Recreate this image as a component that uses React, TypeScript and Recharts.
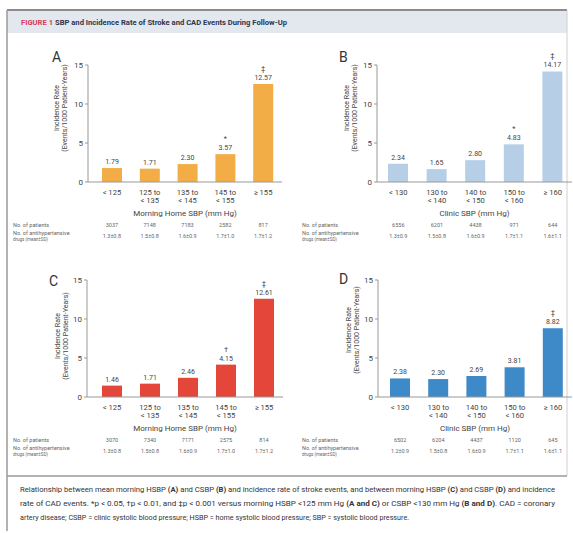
import React from 'react';
import { BarChart, Bar, XAxis, YAxis, LabelList } from 'recharts';

const homeCats = ['< 125', '125 to|< 135', '135 to|< 145', '145 to|< 155', '≥ 155'];
const clinicCats = ['< 130', '130 to|< 140', '140 to|< 150', '150 to|< 160', '≥ 160'];

const strokeHome = [1.79, 1.71, 2.3, 3.57, 12.57];
const strokeClinic = [2.34, 1.65, 2.8, 4.83, 14.17];
const cadHome = [1.46, 1.71, 2.46, 4.15, 12.61];
const cadClinic = [2.38, 2.3, 2.69, 3.81, 8.82];

const sigA = ['', '', '', '*', '‡'];
const sigB = ['', '', '', '*', '‡'];
const sigC = ['', '', '', '†', '‡'];
const sigD = ['', '', '', '', '‡'];

const patientsA = ['3037', '7148', '7183', '2582', '817'];
const patientsB = ['6556', '6201', '4438', '971', '644'];
const patientsC = ['3070', '7340', '7171', '2575', '814'];
const patientsD = ['6502', '6204', '4437', '1120', '645'];

const drugsA = ['1.3±0.8', '1.5±0.8', '1.6±0.9', '1.7±1.0', '1.7±1.2'];
const drugsB = ['1.3±0.9', '1.5±0.8', '1.6±0.9', '1.7±1.1', '1.6±1.1'];
const drugsC = ['1.3±0.8', '1.5±0.8', '1.6±0.9', '1.7±1.0', '1.7±1.2'];
const drugsD = ['1.2±0.9', '1.5±0.8', '1.6±0.9', '1.7±1.1', '1.6±1.1'];

const yTicks = [0, 5, 10, 15];

const FONT = "Roboto, 'Noto Sans', sans-serif";
const TXT = '#444';

const CatTick = (p: any) => {
  const { x, y, payload, index, patients, drugs } = p;
  const lines = String(payload.value).split('|');
  return (
    <g fontFamily={FONT}>
      <text x={x} y={y + 12.5} textAnchor="middle" fontSize={7.6} fill={TXT}>
        {lines.map((l, i) => (
          <tspan key={i} x={x} dy={i === 0 ? 0 : 8.5}>
            {l}
          </tspan>
        ))}
      </text>
      <text x={x} y={y + 44.5} textAnchor="middle" fontSize={5.5} fill="#666">
        {patients[index]}
      </text>
      <text x={x} y={y + 55.5} textAnchor="middle" fontSize={5.5} fill="#666">
        {drugs[index]}
      </text>
    </g>
  );
};

const TopLabel = (p: any) => {
  const vb = p.viewBox || {};
  const x = p.x ?? vb.x;
  const y = p.y ?? vb.y;
  const width = p.width ?? vb.width;
  const cx = x + width / 2;
  const mark = p.sig[p.index];
  return (
    <g fontFamily={FONT}>
      <text x={cx} y={y - 4} textAnchor="middle" fontSize={7} fill={TXT}>
        {Number(p.value).toFixed(2)}
      </text>
      {mark ? (
        <text x={cx} y={y - 13} textAnchor="middle" fontSize={7.5} fill={TXT}>
          {mark}
        </text>
      ) : null}
    </g>
  );
};

const XTitle = (p: any) => {
  const vb = p.viewBox || {};
  return (
    <text x={vb.x + vb.width / 2} y={vb.y + 34} textAnchor="middle" fontSize={8} fill={TXT} fontFamily={FONT}>
      {p.title}
    </text>
  );
};

type PanelProps = {
  left: number;
  top: number;
  width: number;
  yWidth: number;
  cats: string[];
  values: number[];
  sig: string[];
  patients: string[];
  drugs: string[];
  color: string;
  xTitle: string;
  padLeft: number;
  right: number;
};

const Panel = (props: PanelProps) => {
  const { left, top, width, yWidth, cats, values, sig, patients, drugs, color, xTitle, padLeft, right } = props;
  const data = cats.map((c, i) => ({ cat: c, v: values[i] }));
  return (
    <div style={{ position: 'absolute', left, top }}>
      <BarChart width={width} height={210} data={data} margin={{ top: 25, right, left: 0, bottom: 0 }}>
        <YAxis
          width={yWidth}
          domain={[0, 15]}
          ticks={yTicks}
          interval={0}
          tickSize={3}
          tickMargin={2}
          stroke="#999"
          tick={{ fontSize: 8, fill: TXT, fontFamily: FONT }}
        />
        <XAxis
          dataKey="cat"
          height={68}
          interval={0}
          padding={{ left: padLeft, right: 0 }}
          tickLine={false}
          tickSize={0}
          tickMargin={0}
          stroke="#999"
          tick={(t: any) => <CatTick {...t} patients={patients} drugs={drugs} />}
          label={{ content: (l: any) => <XTitle {...l} title={xTitle} /> }}
        />
        <Bar dataKey="v" fill={color} barSize={20} isAnimationActive={false}>
          <LabelList dataKey="v" content={(l: any) => <TopLabel {...l} sig={sig} />} />
        </Bar>
      </BarChart>
    </div>
  );
};

const RowTitles = ({ x, axisY }: { x: number; axisY: number }) => (
  <g fontFamily={FONT} fill="#666">
    <text x={x} y={axisY + 44.5} fontSize={5.5}>No. of patients</text>
    <text x={x} y={axisY + 52.5} fontSize={5.5}>No. of antihypertensive</text>
    <text x={x} y={axisY + 58.5} fontSize={4.5}>drugs (mean±SD)</text>
  </g>
);

const YTitle = ({ x, cy }: { x: number; cy: number }) => (
  <g fontFamily={FONT} fill={TXT} fontSize={7}>
    <text transform={`translate(${x},${cy}) rotate(-90)`} textAnchor="middle">Incidence Rate</text>
    <text transform={`translate(${x + 8},${cy}) rotate(-90)`} textAnchor="middle">(Events/1000 Patient-Years)</text>
  </g>
);

export default function App() {
  return (
    <div style={{ position: 'absolute', left: 0, top: 0, width: 573, height: 533, background: '#fff' }}>
      <svg width={573} height={533} style={{ position: 'absolute', left: 0, top: 0 }}>
        <rect x={7} y={11} width={560} height={22} fill="#e2e8ee" />
        <line x1={7} y1={10} x2={567} y2={10} stroke="#8c8c8c" strokeWidth={2} />
        <line x1={7} y1={10} x2={7} y2={531} stroke="#9a9a9a" strokeWidth={1.5} />
        <line x1={567} y1={10} x2={567} y2={476} stroke="#d0d0d0" strokeWidth={1} />
        <line x1={7} y1={476} x2={567} y2={476} stroke="#9a9a9a" strokeWidth={1.5} />
        <text x={21} y={25} fontSize={6.5} fontWeight="bold" fontFamily={FONT} textLength={266} lengthAdjust="spacingAndGlyphs">
          <tspan fill="#d6405a">FIGURE 1</tspan>
          <tspan fill="#2a3550"> SBP and Incidence Rate of Stroke and CAD Events During Follow-Up</tspan>
        </text>

        <g fontFamily={FONT} fontSize={14} fill="#333">
          <text x={52} y={62}>A</text>
          <text x={339} y={62}>B</text>
          <text x={49} y={286}>C</text>
          <text x={339} y={284}>D</text>
        </g>

        <YTitle x={59} cy={108} />
        <YTitle x={349} cy={108} />
        <YTitle x={60} cy={336} />
        <YTitle x={351} cy={330} />

        <RowTitles x={13} axisY={182} />
        <RowTitles x={302} axisY={182} />
        <RowTitles x={13} axisY={397} />
        <RowTitles x={302} axisY={397} />

        <g fontFamily={FONT} fontSize={7.2} fill="#333">
          <text x={20} y={492} textLength={535} lengthAdjust="spacingAndGlyphs">
            Relationship between mean morning HSBP <tspan fontWeight="bold">(A)</tspan> and CSBP <tspan fontWeight="bold">(B)</tspan> and incidence rate of stroke events, and between morning HSBP <tspan fontWeight="bold">(C)</tspan> and CSBP <tspan fontWeight="bold">(D)</tspan> and incidence
          </text>
          <text x={20} y={506} textLength={535} lengthAdjust="spacingAndGlyphs">
            rate of CAD events. *p {'<'} 0.05, †p {'<'} 0.01, and ‡p {'<'} 0.001 versus morning HSBP {'<'}125 mm Hg <tspan fontWeight="bold">(A and C)</tspan> or CSBP {'<'}130 mm Hg <tspan fontWeight="bold">(B and D)</tspan>. CAD = coronary
          </text>
          <text x={20} y={520}>
            artery disease; CSBP = clinic systolic blood pressure; HSBP = home systolic blood pressure; SBP = systolic blood pressure.
          </text>
        </g>
      </svg>

      <Panel left={0} top={40} width={290} yWidth={88} right={8} padLeft={5} cats={homeCats} values={strokeHome} sig={sigA} patients={patientsA} drugs={drugsA} color="#f3ad47" xTitle="Morning Home SBP (mm Hg)" />
      <Panel left={290} top={40} width={283} yWidth={87} right={1} padLeft={2} cats={clinicCats} values={strokeClinic} sig={sigB} patients={patientsB} drugs={drugsB} color="#b6cfe6" xTitle="Clinic SBP (mm Hg)" />
      <Panel left={0} top={255} width={290} yWidth={87} right={7} padLeft={6} cats={homeCats} values={cadHome} sig={sigC} patients={patientsC} drugs={drugsC} color="#e4463a" xTitle="Morning Home SBP (mm Hg)" />
      <Panel left={290} top={255} width={283} yWidth={88} right={1} padLeft={3} cats={clinicCats} values={cadClinic} sig={sigD} patients={patientsD} drugs={drugsD} color="#3e89c7" xTitle="Clinic SBP (mm Hg)" />
    </div>
  );
}
